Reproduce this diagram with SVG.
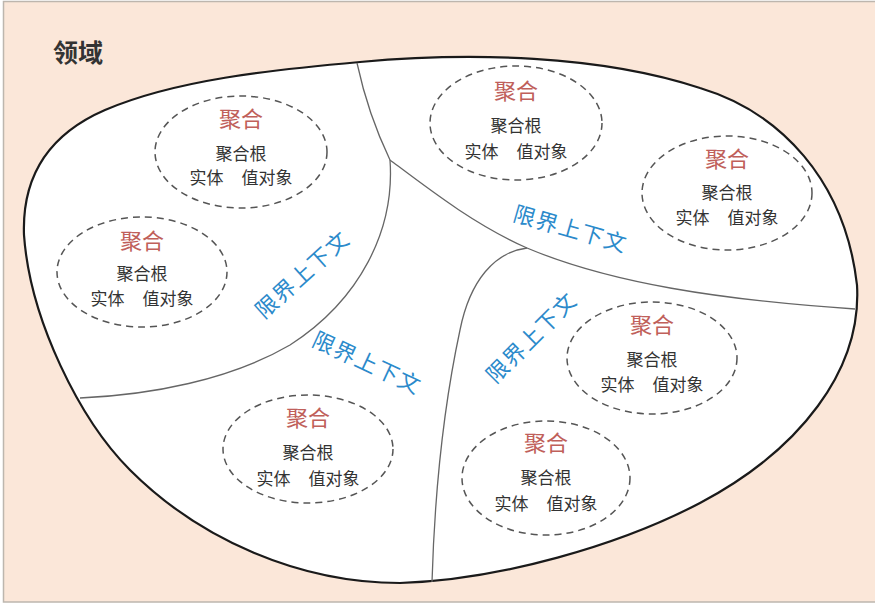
<svg xmlns="http://www.w3.org/2000/svg" width="875" height="604" viewBox="0 0 875 604">
<style>
.cjk{font-family:"Noto Sans CJK SC","Noto Sans",sans-serif}
.agg{font-size:22px;fill:#C0605A;text-anchor:middle;dominant-baseline:central}
.t{font-size:17px;fill:#333;text-anchor:middle;dominant-baseline:central}
.bc{font-size:22px;fill:#2B8ACB;text-anchor:middle;dominant-baseline:central;letter-spacing:1.5px}
.ell{fill:none;stroke:#555;stroke-width:1.5;stroke-dasharray:7 5}
.div{fill:none;stroke:#666;stroke-width:1.3}
</style>
<rect x="0" y="0" width="875" height="604" fill="#fff"/>
<rect x="3.5" y="1.5" width="880" height="600.5" fill="#FBE7D9" stroke="#BDB6AE" stroke-width="1.5"/>
<text class="cjk" x="53" y="62" font-size="25" font-weight="bold" fill="#333">领域</text>
<g id="domain">
<path d="M24,235 C22,180 45,136 105,110 C175,80 270,70 360,62 C470,52 600,55 700,88 C780,112 845,180 857,285 C862,370 800,450 700,503 C620,545 500,580 400,583 C300,583 200,540 130,470 C80,420 30,320 24,235 Z" fill="#fff" stroke="#1a1a1a" stroke-width="2.2"/>
</g>
<g id="connectors">
<path class="div" d="M357,63 C365,100 378,135 390,160"/>
<path class="div" d="M390,160 C395,230 360,300 290,345 C230,380 150,395 80,398"/>
<path class="div" d="M390,160 C430,190 475,225 527,248 C610,283 720,300 855,309"/>
<path class="div" d="M527,248 C495,252 470,280 460,330 C445,400 435,480 432,582"/>
</g>
<g id="labels" class="cjk">
<text class="bc" transform="translate(301,273) rotate(-42)">限界上下文</text>
<text class="bc" transform="translate(368,361) rotate(25)">限界上下文</text>
<text class="bc" transform="translate(571,227) rotate(16)">限界上下文</text>
<text class="bc" transform="translate(530,336) rotate(-45)">限界上下文</text>
</g>
<g id="agg1" class="cjk">
<ellipse class="ell" cx="241" cy="152" rx="86" ry="56"/>
<text class="agg" x="241" y="117">聚合</text>
<text class="t" x="241" y="152">聚合根</text>
<text class="t" x="241" y="176">实体<tspan dx="18">值对象</tspan></text>
</g>
<g id="agg2" class="cjk">
<ellipse class="ell" cx="142" cy="272" rx="85" ry="55"/>
<text class="agg" x="142" y="239">聚合</text>
<text class="t" x="142" y="272">聚合根</text>
<text class="t" x="142" y="297">实体<tspan dx="18">值对象</tspan></text>
</g>
<g id="agg3" class="cjk">
<ellipse class="ell" cx="516" cy="123" rx="86" ry="57"/>
<text class="agg" x="516" y="89">聚合</text>
<text class="t" x="516" y="124">聚合根</text>
<text class="t" x="516" y="150">实体<tspan dx="18">值对象</tspan></text>
</g>
<g id="agg4" class="cjk">
<ellipse class="ell" cx="727" cy="193" rx="85" ry="57"/>
<text class="agg" x="727" y="157">聚合</text>
<text class="t" x="727" y="191">聚合根</text>
<text class="t" x="727" y="216">实体<tspan dx="18">值对象</tspan></text>
</g>
<g id="agg5" class="cjk">
<ellipse class="ell" cx="308" cy="449" rx="85" ry="54"/>
<text class="agg" x="308" y="416">聚合</text>
<text class="t" x="308" y="451">聚合根</text>
<text class="t" x="308" y="477">实体<tspan dx="18">值对象</tspan></text>
</g>
<g id="agg6" class="cjk">
<ellipse class="ell" cx="652" cy="358" rx="85" ry="56"/>
<text class="agg" x="652" y="323">聚合</text>
<text class="t" x="652" y="358">聚合根</text>
<text class="t" x="652" y="383">实体<tspan dx="18">值对象</tspan></text>
</g>
<g id="agg7" class="cjk">
<ellipse class="ell" cx="546" cy="478" rx="84" ry="57"/>
<text class="agg" x="546" y="441">聚合</text>
<text class="t" x="546" y="476">聚合根</text>
<text class="t" x="546" y="502">实体<tspan dx="18">值对象</tspan></text>
</g>
</svg>
